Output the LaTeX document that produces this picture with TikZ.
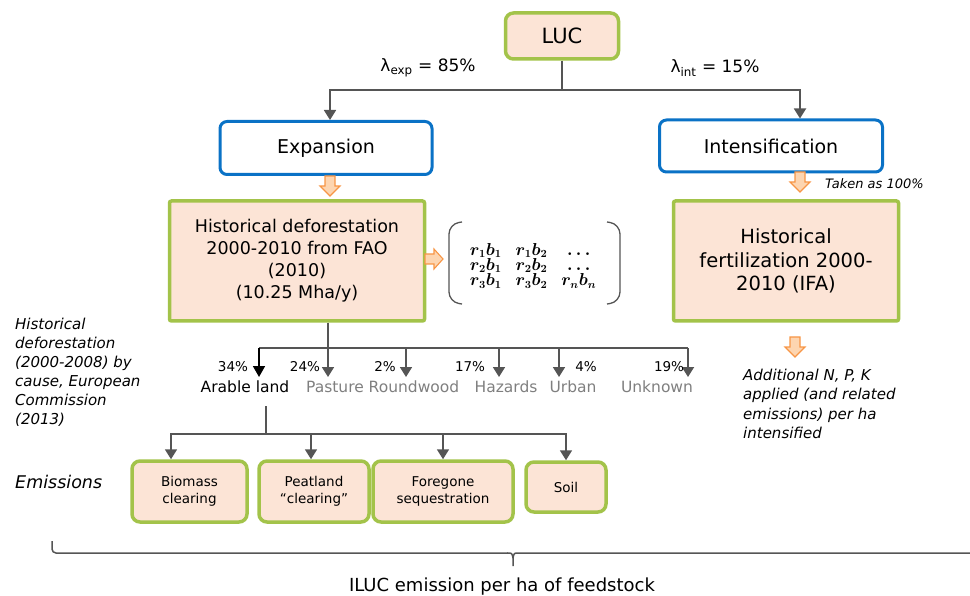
\documentclass[tikz,border=0pt]{standalone}
\usepackage{fontspec}
\setmainfont{DejaVu Sans}
\usetikzlibrary{arrows.meta,calc}
\definecolor{peach}{HTML}{FCE4D6}
\definecolor{lgreen}{HTML}{A3C34A}
\definecolor{bblue}{HTML}{0A72C6}
\definecolor{cgray}{HTML}{555555}
\definecolor{tgray}{HTML}{7F7F7F}
\definecolor{oedge}{HTML}{F79646}
\definecolor{ofill}{HTML}{FDD5B0}
\newcommand{\fsz}[2]{\fontsize{#1}{#2}\selectfont}
\newcommand{\rbmatrix}{{\boldmath$\renewcommand{\arraystretch}{0.68}\setlength{\arraycolsep}{7pt}\begin{array}{ccc} r_1b_1 & r_1b_2 & \ldots\\ r_2b_1 & r_2b_2 & \ldots\\ r_3b_1 & r_3b_2 & r_nb_n\end{array}$}}
\tikzset{
  greenbox/.style={draw=lgreen, line width=3.5pt, fill=peach, align=center, inner sep=0pt},
  bluebox/.style={draw=bblue, line width=3pt, fill=white, rounded corners=7pt, align=center, inner sep=0pt},
  conn/.style={draw=cgray, line width=1.8pt},
  arr/.style={conn, -{Triangle[width=12pt,length=10pt]}},
  lbl/.style={inner sep=0pt, align=left, anchor=west},
  oarrow/.style={draw=oedge, fill=ofill, line width=1.1pt, line join=miter},
  downarr/.pic={\path[oarrow] (-5,0) -- (5,0) -- (5,10) -- (10,10) -- (0,20) -- (-10,10) -- (-5,10) -- cycle;},
  rightarr/.pic={\path[oarrow] (0,-5) -- (0,5) -- (9,5) -- (9,10) -- (18,0) -- (9,-10) -- (9,-5) -- cycle;}
}
\begin{document}
\begin{tikzpicture}[x=1pt,y=-1pt]
\useasboundingbox (0,0) rectangle (970,596);

% top level
\node[greenbox, rounded corners=8pt, minimum width=113pt, minimum height=46pt, font=\fsz{21}{24}] (luc) at (562,36) {LUC};
\node[bluebox, minimum width=212pt, minimum height=53pt, font=\fsz{19}{22}] (exp) at (326,148) {Expansion};
\node[bluebox, minimum width=223pt, minimum height=52pt, font=\fsz{19}{22}] (int) at (771,146) {Intensification};

\node[inner sep=0pt, font=\fsz{17}{20}] (lexp) at (428,68) {λ\textsubscript{exp} = 85\%};
\node[inner sep=0pt, font=\fsz{17}{20}] (lint) at (715,68) {λ\textsubscript{int} = 15\%};

\coordinate (j1) at (562,90);
\draw[conn] (luc.south) -- (j1);
\draw[arr] (j1) -| ([xshift=4pt]exp.north);
\draw[arr] (j1) -| ([xshift=29pt]int.north);

% second level boxes
\node[greenbox, rounded corners=2pt, minimum width=255pt, minimum height=120pt, font=\fsz{17.5}{22}] (def) at (297,261)
  {Historical deforestation\\2000-2010 from FAO\\(2010)\\(10.25 Mha/y)};
\node[greenbox, rounded corners=2pt, minimum width=225pt, minimum height=120pt, font=\fsz{19.5}{23.5}] (fert) at (786,261)
  {Historical\\fertilization 2000-\\2010 (IFA)};

\pic at (330,176) {downarr};
\pic at (800,172) {downarr};
\pic at (795,337) {downarr};
\pic at (425,259) {rightarr};

\node[inner sep=0pt, anchor=west, font=\fsz{13}{15}\itshape] (taken) at (825,184) {Taken as 100\%};

% matrix
\draw[cgray, line width=1.3pt, rounded corners=10pt] (462,222) -- (449,224) -- (449,302) -- (462,304);
\draw[cgray, line width=1.3pt, rounded corners=10pt] (607,222) -- (620,224) -- (620,302) -- (607,304);
\node[inner sep=0pt, font=\fsz{16}{16}] (mat) at (533,266) {\rbmatrix};

% right text
\node[lbl, font=\fsz{15}{19.5}\itshape] (addtxt) at (743,404) {Additional N, P, K\\applied (and related\\emissions) per ha\\intensified};

% left text
\node[lbl, font=\fsz{15}{19}\itshape] (lefttxt) at (15,372) {Historical\\deforestation\\(2000-2008) by\\cause, European\\Commission\\(2013)};

% categories
\coordinate (j2) at (328,348);
\draw[conn] ([xshift=31pt]def.south) -- (j2);
\foreach \n/\x in {a/259,b/328,c/406,d/499,e/559,f/688}{\coordinate (t\n) at (\x,377); \coordinate (h\n) at (\x,348);}
\draw[conn] (ha) -- (hf);
\draw[conn, draw=black, -{Triangle[width=12pt,length=11pt]}] (ha) -- (ta);
\foreach \n in {b,c,d,e,f}{\draw[arr] (h\n) -- (t\n);}

\foreach \n/\x/\t in {pa/233/34\%,pb/305/24\%,pc/385/2\%,pd/470/17\%,pe/586/4\%,pf/669/19\%}
  {\node[inner sep=0pt, font=\fsz{13.5}{15}] (\n) at (\x,367) {\t};}
\node[inner sep=0pt, font=\fsz{15.5}{17}] (arable) at (245,387) {Arable land};
\foreach \n/\x/\t in {past/335/Pasture,round/414/Roundwood,haz/506/Hazards,urb/573/Urban,unk/657/Unknown}
  {\node[inner sep=0pt, text=tgray, font=\fsz{15.5}{17}] (\n) at (\x,387) {\t};}

% emissions
\node[inner sep=0pt, anchor=west, font=\fsz{17.5}{20}\itshape] (emis) at (15,482) {Emissions};
\tikzset{smallbox/.style={greenbox, rounded corners=8pt, minimum height=61pt, font=\fsz{13.5}{17}}}
\node[smallbox, minimum width=115pt] (bio) at (189.5,491.5) {Biomass\\clearing};
\node[smallbox, minimum width=110pt] (peat) at (314,491.5) {Peatland\\“clearing”};
\node[smallbox, minimum width=140pt] (fore) at (443,491.5) {Foregone\\sequestration};
\node[smallbox, minimum width=80pt, minimum height=50pt] (soil) at (566,487) {Soil};

\coordinate (j3) at (266,434);
\draw[conn] (266,406) -- (j3);
\draw[arr] (j3) -| ([xshift=-18.5pt]bio.north);
\draw[arr] (j3) -| ([xshift=-3pt]peat.north);
\draw[arr] (j3) -| (fore.north);
\draw[arr] (j3) -| (soil.north);

% brace
\draw[cgray, line width=1.5pt, rounded corners=4pt] (52,541) -- (52,553) -- (508,553);
\draw[cgray, line width=1.5pt] (507,553) .. controls (512,553) .. (513,558) -- (513,566);
\draw[cgray, line width=1.5pt] (513,558) .. controls (514,553) .. (519,553) -- (972,553);
\node[inner sep=0pt, font=\fsz{18}{20}] (iluc) at (502,587) {ILUC emission per ha of feedstock};
\end{tikzpicture}
\end{document}
